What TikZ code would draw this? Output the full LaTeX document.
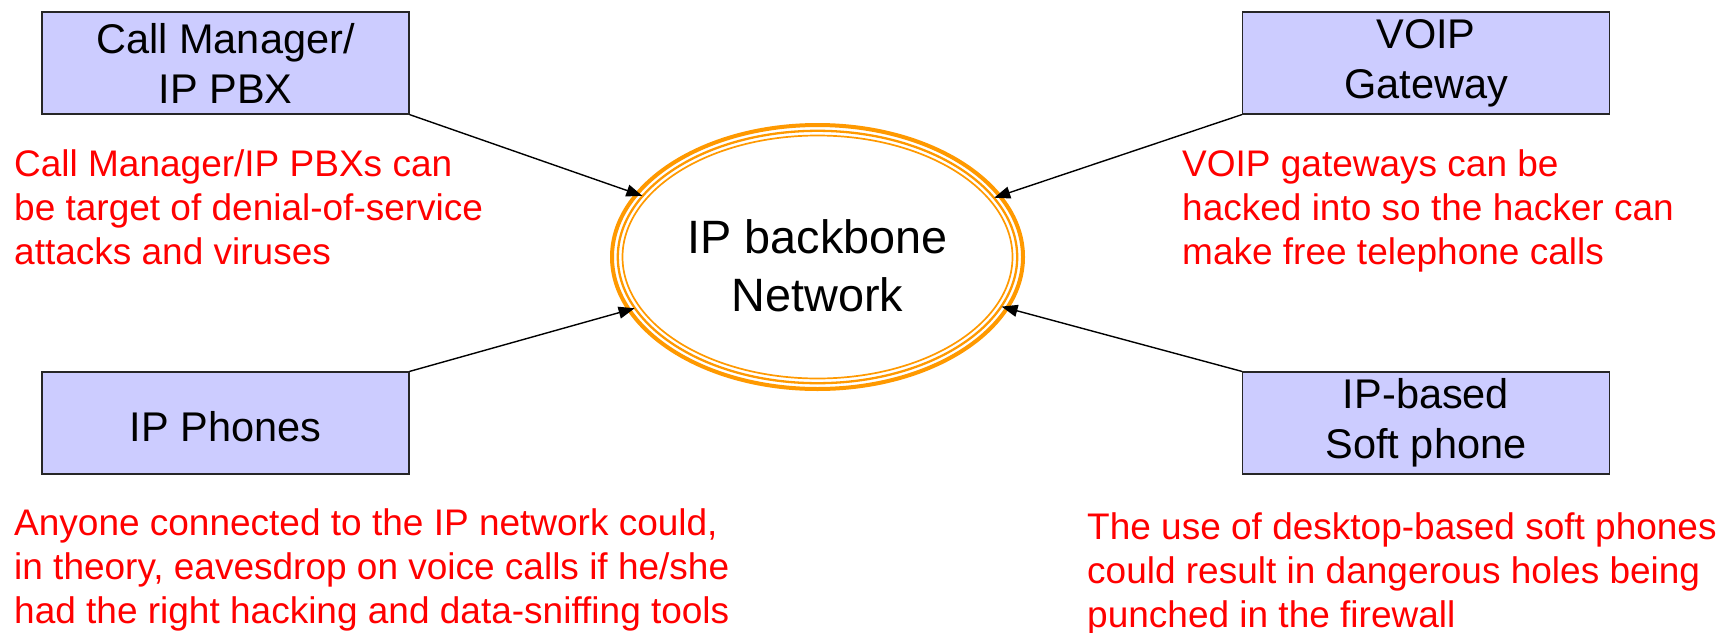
\documentclass[tikz,border=0pt]{standalone}
\usepackage{fontspec}
\setmainfont{Liberation Sans}
\usetikzlibrary{arrows.meta,shapes.geometric}
\definecolor{boxfill}{HTML}{CCCCFF}
\definecolor{netorange}{HTML}{FF9900}
\definecolor{warnred}{HTML}{FF0000}
\tikzset{
  devbox/.style={draw=black!85, line width=1.2pt, fill=boxfill, minimum width=367pt, minimum height=102pt, inner sep=0pt, align=center, font=\fontsize{41.5}{50}\selectfont, execute at begin node=\rule{0pt}{38pt}},
  note/.style={text=warnred, anchor=base west, align=left, inner sep=0pt, font=\fontsize{37}{44}\selectfont},
  link/.style={line width=1.4pt, -{Triangle[length=16pt,width=12pt]}},
  netring/.style={draw=netorange},
}
\begin{document}
\begin{tikzpicture}[x=1pt,y=-1pt]
\useasboundingbox (0,0) rectangle (1734,632);
% network ellipse (triple orange ring)
\draw[netring, line width=4pt, fill=white] (817.5,257) ellipse [x radius=205.5pt, y radius=132pt];
\draw[netring, line width=2.3pt] (817.5,257) ellipse [x radius=199.7pt, y radius=126.2pt];
\draw[netring, line width=1.7pt] (817.5,257) ellipse [x radius=195pt, y radius=121.5pt];
\node[ellipse, minimum width=400pt, minimum height=252pt, inner sep=0pt] (net) at (817.5,257) {};
\node[align=center, inner sep=0pt, font=\fontsize{46.8}{58}\selectfont] (nettext) at (817.5,266) {IP backbone\\Network};
% devices
\node[devbox] (cm) at (225.5,63) {Call Manager/\\IP PBX};
\node[devbox] (gw) at (1426,63) {VOIP\\Gateway};
\node[devbox] (ph) at (225.5,423) {IP Phones};
\node[devbox] (sp) at (1426,423) {IP-based\\Soft phone};
% connectors
\draw[link] (cm.south east) -- (net);
\draw[link] (gw.south west) -- (net);
\draw[link] (ph.north east) -- (net);
\draw[link] (sp.north west) -- (net);
% notes (anchored at the baseline of their last line)
\node[note] (n1) at (14,264) {Call Manager/IP PBXs can\\be target of denial-of-service\\attacks and viruses};
\node[note] (n2) at (1182,264) {VOIP gateways can be\\hacked into so the hacker can\\make free telephone calls};
\node[note] (n3) at (14,623.5) {Anyone connected to the IP network could,\\in theory, eavesdrop on voice calls if he/she\\had the right hacking and data-sniffing tools};
\node[note] (n4) at (1087,627.5) {The use of desktop-based soft phones\\could result in dangerous holes being\\punched in the firewall};
\end{tikzpicture}
\end{document}
